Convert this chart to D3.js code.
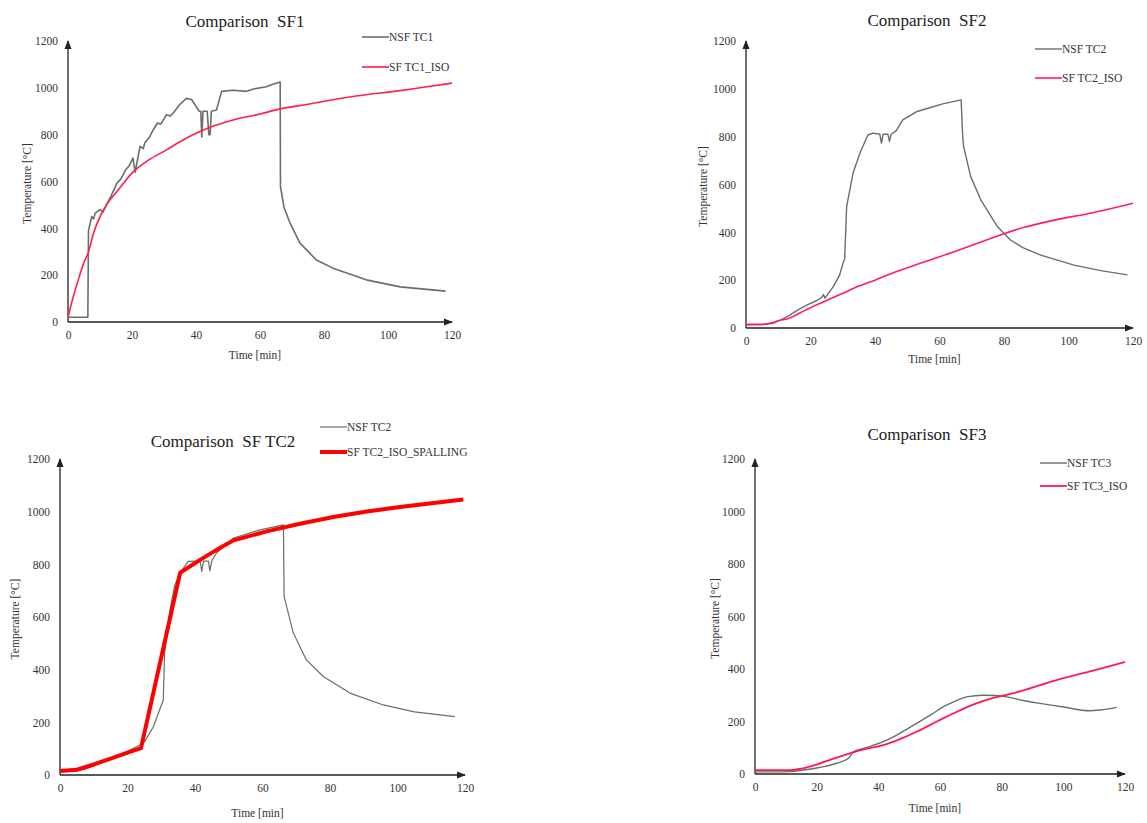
<!DOCTYPE html>
<html>
<head>
<meta charset="utf-8">
<script src="https://cdn.jsdelivr.net/npm/d3@7"></script>
<style>
  body { margin: 0; background: #fff; }
  svg text { font-family: 'Liberation Serif', 'Times New Roman', 'DejaVu Serif', serif; }
</style>
</head>
<body>
<svg id="chart" width="1147" height="823"></svg>
<script>
// x ticks / y ticks shared by the four panels
const timeTicks = [0, 20, 40, 60, 80, 100, 120]
const tempTicks = [0, 200, 400, 600, 800, 1000, 1200]

// [time min, temperature °C]
const nsfTc1 = [[0,20],[6.2,20],[6.4,390],[7.4,450],[8,440],[8.5,465],[10,480],[11,470],[12,500],[13.5,540],[15.3,593],[16.5,610],[18,650],[19,665],[20.3,700],[21,640],[22.5,750],[23.5,740],[24,765],[25.5,790],[26.6,820],[28,850],[29,845],[30.8,885],[32,880],[33,895],[35,930],[37,955],[38.6,950],[41,900],[41.5,900],[41.8,790],[42.2,900],[43.5,900],[44,800],[44.4,800],[44.8,900],[46.4,905],[48,985],[51.6,990],[55.8,985],[58,995],[62,1005],[64,1015],[66.3,1025],[66.4,578],[67.5,490],[69.4,422],[72.5,337],[77.6,265],[82.8,230],[93.2,180],[103.8,150],[118,132]]
const sfTc1Iso = [[0,20],[1,75],[2,125],[3,170],[4,215],[5,255],[6.3,295],[8,380],[10,450],[12.5,510],[15.3,557],[20.3,640],[25,690],[30.8,735],[35,770],[40,806],[45,835],[51.6,863],[60,888],[66,909],[75,930],[82.8,949],[90,965],[103.8,988],[110,1000],[120,1020]]

const nsfTc2 = [[0,13],[5,14],[8.5,20],[11,35],[13.6,54],[16,75],[18.8,96],[22,115],[23.5,128],[24,140],[24.5,125],[27,172],[29,220],[30.2,276],[30.6,290],[31.2,507],[33.2,648],[35.3,731],[37.8,807],[39.4,815],[41.5,810],[42,773],[42.5,810],[44,810],[44.5,780],[45,810],[46.6,825],[48.6,870],[52.8,904],[57,921],[61,937],[66.7,954],[67.2,800],[67.5,757],[69.7,632],[72.8,536],[78,423],[82,368],[86,335],[91.4,305],[101.7,263],[110,240],[118.3,222]]
const sfTc2Iso = [[0,15],[5,15],[8,22],[10,30],[13.6,42],[17,65],[20,85],[24,109],[30,145],[34.4,172],[40,200],[44.7,226],[55,275],[65.4,323],[75,370],[86,420],[96,452],[106.7,480],[120,522]]

const nsfTc2b = [[0,15],[5,16],[8,25],[12,45],[16,65],[20,90],[23.7,114],[25,125],[27.7,184],[30.6,285],[31,464],[32.5,620],[34,720],[35.6,768],[38,811],[40.4,812],[41.5,812],[42,773],[42.5,812],[44,812],[44.4,775],[45,815],[46.4,843],[51.4,900],[59.3,931],[66.2,950],[66.4,678],[69.1,540],[73,437],[78,374],[85.9,311],[95.8,266],[105,240],[117,222]]
const sfTc2Spalling = [[0,15],[5,20],[10,40],[15,62],[20,85],[24,102],[35.6,768],[41.5,817],[46.4,855],[51.4,891],[61.2,925],[71.1,954],[81,980],[90.9,1001],[100.7,1018],[119.5,1046]]

const nsfTc3 = [[0,8],[5,8],[11.4,9],[15,14],[19.6,22],[23,30],[26.5,41],[30.3,60],[32,85],[36,100],[41.6,123],[47,155],[52.4,193],[57,225],[61,256],[65,278],[68.6,294],[74,300],[78,299],[81.6,294],[87,280],[92.4,269],[100,255],[108.6,241],[112,244],[117.3,254]]
const sfTc3Iso = [[0,15],[5,15],[11.4,15],[15,20],[20,36],[25,57],[30,76],[35,93],[41.6,110],[47,133],[52.4,161],[57,188],[61,212],[66,240],[71.8,269],[77,289],[82.6,304],[97.8,358],[110,395],[120,427]]

const gray = '#667066'
const serif = "'Liberation Serif', 'Times New Roman', serif"

// panel layout
const panels = [
  { title: 'Comparison  SF1', x0: 68, x1: 452, y0: 322, y1: 41, titleX: 245, titleY: 21, xlabY: 355, ylabX: 27,
    legX: 362, legY: [37, 67],
    series: [
      { name: 'NSF TC1', data: nsfTc1, color: gray, width: 1.6 },
      { name: 'SF TC1_ISO', data: sfTc1Iso, color: '#ff1f4f', width: 1.6, smooth: true }
    ] },
  { title: 'Comparison  SF2', x0: 746, x1: 1133, y0: 328, y1: 41, titleX: 927, titleY: 20, xlabY: 359, ylabX: 703,
    legX: 1035, legY: [49, 78],
    series: [
      { name: 'NSF TC2', data: nsfTc2, color: gray, width: 1.4 },
      { name: 'SF TC2_ISO', data: sfTc2Iso, color: '#ff1f5e', width: 1.6, smooth: true }
    ] },
  { title: 'Comparison  SF TC2', x0: 60, x1: 465, y0: 775, y1: 459, titleX: 223, titleY: 441, xlabY: 813, ylabX: 15,
    legX: 320, legY: [427, 452],
    series: [
      { name: 'NSF TC2', data: nsfTc2b, color: gray, width: 1.2 },
      { name: 'SF TC2_ISO_SPALLING', data: sfTc2Spalling, color: '#ff0000', width: 4 }
    ] },
  { title: 'Comparison  SF3', x0: 755, x1: 1125, y0: 774, y1: 459, titleX: 927, titleY: 434, xlabY: 808, ylabX: 715,
    legX: 1040, legY: [463, 486],
    series: [
      { name: 'NSF TC3', data: nsfTc3, color: gray, width: 1.4, smooth: true },
      { name: 'SF TC3_ISO', data: sfTc3Iso, color: '#ff1a55', width: 1.8, smooth: true }
    ] }
]

const svg = d3.select('#chart')

svg.append('defs').append('marker')
  .attr('id', 'arrow')
  .attr('viewBox', '0 0 10 10')
  .attr('refX', 9).attr('refY', 5)
  .attr('markerWidth', 9).attr('markerHeight', 9)
  .attr('markerUnits', 'userSpaceOnUse')
  .attr('orient', 'auto')
  .append('path').attr('d', 'M0,1 L10,5 L0,9 Z').attr('fill', '#222')

panels.forEach((p) => {
  const x = d3.scaleLinear().domain([0, 120]).range([p.x0, p.x1])
  const y = d3.scaleLinear().domain([0, 1200]).range([p.y0, p.y1])
  const g = svg.append('g')

  // axes, no tick marks
  g.append('g')
    .attr('transform', `translate(0,${p.y0})`)
    .call(d3.axisBottom(x).tickValues(timeTicks).tickFormat(d3.format('d')).tickSize(0).tickPadding(9))
  g.append('g')
    .attr('transform', `translate(${p.x0},0)`)
    .call(d3.axisLeft(y).tickValues(tempTicks).tickFormat(d3.format('d')).tickSize(0).tickPadding(10))
  g.selectAll('.domain').remove()
  g.selectAll('g').attr('font-family', serif)
  g.selectAll('.tick text').attr('font-family', serif).attr('font-size', 11.5).attr('fill', '#333')

  g.append('line').attr('x1', p.x0).attr('x2', p.x1).attr('y1', p.y0).attr('y2', p.y0)
    .attr('stroke', '#222').attr('stroke-width', 1.3).attr('marker-end', 'url(#arrow)')
  g.append('line').attr('x1', p.x0).attr('x2', p.x0).attr('y1', p.y0).attr('y2', p.y1)
    .attr('stroke', '#222').attr('stroke-width', 1.3).attr('marker-end', 'url(#arrow)')

  // curves
  p.series.forEach((s) => {
    const line = d3.line()
      .x((d) => x(d[0]))
      .y((d) => y(d[1]))
      .curve(s.smooth ? d3.curveMonotoneX : d3.curveLinear)
    g.append('path')
      .datum(s.data)
      .attr('d', line)
      .attr('fill', 'none')
      .attr('stroke', s.color)
      .attr('stroke-width', s.width)
      .attr('stroke-linejoin', 'round')
  })

  // titles and labels
  g.append('text').attr('x', p.titleX).attr('y', p.titleY).attr('dy', '0.35em')
    .attr('text-anchor', 'middle').attr('font-size', 17).attr('fill', '#222')
    .attr('font-family', serif)
    .style('white-space', 'pre')
    .text(p.title)
  g.append('text').attr('x', (p.x0 + p.x1) / 2 - 5).attr('y', p.xlabY).attr('dy', '0.35em')
    .attr('text-anchor', 'middle').attr('font-size', 11.5).attr('fill', '#333')
    .attr('font-family', serif)
    .text('Time [min]')
  g.append('text')
    .attr('transform', `translate(${p.ylabX},${(p.y0 + p.y1) / 2 + 2}) rotate(-90)`)
    .attr('dy', '0.35em').attr('text-anchor', 'middle').attr('font-size', 11.5).attr('fill', '#333')
    .attr('font-family', serif)
    .text('Temperature [°C]')

  // legend
  p.series.forEach((s, i) => {
    const ly = p.legY[i]
    g.append('line').attr('x1', p.legX).attr('x2', p.legX + 27).attr('y1', ly).attr('y2', ly)
      .attr('stroke', s.color).attr('stroke-width', s.width)
    g.append('text').attr('x', p.legX + 27).attr('y', ly).attr('dy', '0.35em')
      .attr('font-family', serif)
      .attr('font-size', 11.5).attr('fill', '#333').text(s.name)
  })
})
</script>
</body>
</html>
